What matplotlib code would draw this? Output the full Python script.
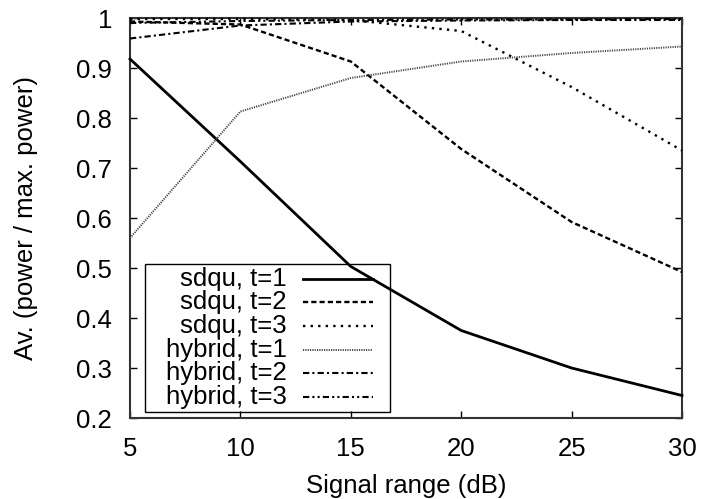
import matplotlib
matplotlib.use("Agg")
import matplotlib.pyplot as plt
from matplotlib.lines import Line2D
from matplotlib.patches import Rectangle

plt.rcParams['font.family'] = ['Liberation Sans', 'DejaVu Sans']

signal_range = [5, 10, 15, 20, 25, 30]
sdqu_t1 = [0.918, 0.713, 0.503, 0.375, 0.30, 0.245]
sdqu_t2 = [0.993, 0.987, 0.913, 0.738, 0.592, 0.492]
sdqu_t3 = [0.998, 0.998, 0.996, 0.974, 0.862, 0.735]
hybrid_t1 = [0.560, 0.813, 0.880, 0.913, 0.930, 0.943]
hybrid_t2 = [0.959, 0.985, 0.993, 0.995, 0.996, 0.996]
hybrid_t3 = [0.990, 0.994, 0.996, 0.997, 0.997, 0.998]
labels = ["sdqu, t=1", "sdqu, t=2", "sdqu, t=3",
          "hybrid, t=1", "hybrid, t=2", "hybrid, t=3"]
yticks = [0.2, 0.3, 0.4, 0.5, 0.6, 0.7, 0.8, 0.9, 1.0]
ytick_labels = ["0.2", "0.3", "0.4", "0.5", "0.6", "0.7", "0.8", "0.9", "1"]
xticks = [5, 10, 15, 20, 25, 30]

FS = 18.5
W, H = 703, 499
fig = plt.figure(figsize=(W / 100, H / 100), dpi=100)
L, R, T, B = 130, 682, 18, 418
ax = fig.add_axes([L / W, 1 - B / H, (R - L) / W, (B - T) / H])

styles = [
    dict(color='black', lw=2.0, linestyle='-'),
    dict(color='black', lw=1.7, linestyle=(0, (2.2, 1.3))),
    dict(color='black', lw=1.7, linestyle=(0, (1.0, 2.2))),
    dict(color='#444444', lw=1.4, linestyle=(0, (0.6, 0.6))),
    dict(color='black', lw=1.5, linestyle=(0, (3.0, 1.5, 1.0, 1.5))),
    dict(color='black', lw=1.5, linestyle=(0, (3.0, 1.5, 1.0, 1.5, 1.0, 1.5))),
]
series = [sdqu_t1, sdqu_t2, sdqu_t3, hybrid_t1, hybrid_t2, hybrid_t3]

for s, st in zip(series, styles):
    ax.plot(signal_range, s, **st, clip_on=False, zorder=5)

ax.set_xlim(5, 30)
ax.set_ylim(0.2, 1.0)
ax.set_xticks(xticks)
ax.set_xticklabels([str(x) for x in xticks])
ax.set_yticks(yticks)
ax.set_yticklabels(ytick_labels)
ax.tick_params(axis='both', direction='in', length=5, width=1.0,
               labelsize=FS, colors='black', top=True, right=True)
ax.tick_params(axis='y', pad=13)
ax.tick_params(axis='x', pad=14)
for sp in ax.spines.values():
    sp.set_linewidth(1.5)
    sp.set_color('#333333')

ax.set_xlabel("Signal range (dB)", fontsize=FS)
ax.xaxis.set_label_coords(0.5, (B - 474) / (B - T))
ax.xaxis.label.set_va('top')
ax.set_ylabel("Av. (power / max. power)", fontsize=FS)
ax.yaxis.set_label_coords((38 - L) / (R - L), 0.5)

# manual legend (gnuplot style: transparent box, right-aligned text)
def axx(px):
    return (px - L) / (R - L)

def axy(py):
    return (B - py) / (B - T)

box = Rectangle((axx(145), axy(412)), axx(390) - axx(145), axy(264) - axy(412),
                transform=ax.transAxes, facecolor='none', edgecolor='black',
                lw=1.0, zorder=4)
ax.add_patch(box)
rows = [279, 302, 326, 350, 373, 397]
for lab, st, py in zip(labels, styles, rows):
    ax.text(axx(287), axy(py), lab, transform=ax.transAxes, ha='right',
            va='center', fontsize=FS, zorder=4)
    ax.add_line(Line2D([axx(303), axx(373)], [axy(py), axy(py)],
                       transform=ax.transAxes, zorder=4, **st))

fig.savefig("out.png", dpi=100)
